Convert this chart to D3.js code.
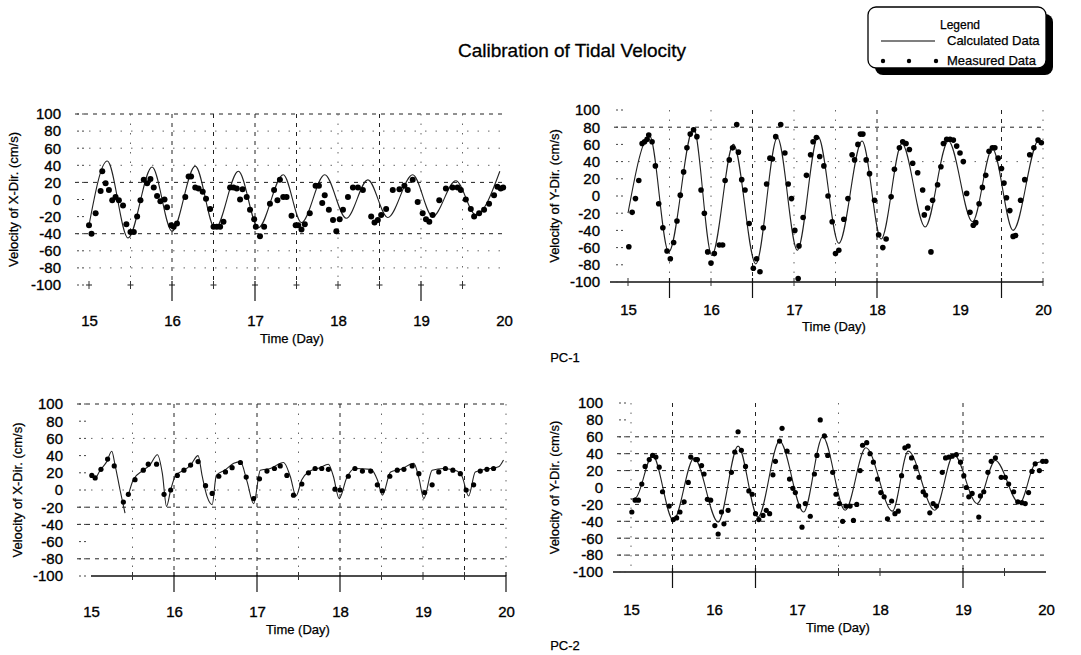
<!DOCTYPE html>
<html><head><meta charset="utf-8">
<script src="https://cdn.jsdelivr.net/npm/d3@7"></script>
<style>
html,body{margin:0;padding:0;background:#fff;}
svg{display:block;font-family:"Liberation Sans",Arial,sans-serif;}
</style></head>
<body>
<svg id="chart" width="1081" height="655"></svg>
<script>
// ---------- data ----------
const dayTicks = [15,16,17,18,19,20];
const velTicks = [100,80,60,40,20,0,-20,-40,-60,-80,-100];

// PC-1, X-direction
const calcX1_t = [15.0,15.22,15.47,15.76,16.0,16.28,16.52,16.8,17.04,17.34,17.56,17.84,18.1,18.36,18.6,18.9,19.14,19.42,19.66,19.95];
const calcX1_v = [-30,45,-45,38,-37,39,-34,33,-33,29,-27,29,-22,23,-21,29,-20,22,-18,33];
const measX1_t = [15.00,15.03,15.08,15.14,15.16,15.20,15.24,15.28,15.32,15.36,15.41,15.45,15.50,15.54,15.58,15.62,15.66,15.70,15.74,15.78,15.82,15.86,15.91,15.94,15.99,16.02,16.06,16.16,16.20,16.23,16.28,16.32,16.37,16.41,16.46,16.50,16.54,16.58,16.62,16.70,16.74,16.78,16.82,16.85,16.90,16.94,16.99,17.01,17.06,17.11,17.18,17.23,17.27,17.30,17.34,17.38,17.44,17.49,17.52,17.56,17.60,17.66,17.73,17.77,17.81,17.84,17.89,17.94,17.98,18.02,18.06,18.12,18.18,18.24,18.30,18.40,18.44,18.48,18.52,18.58,18.66,18.74,18.80,18.84,18.90,18.96,19.02,19.06,19.10,19.14,19.22,19.30,19.38,19.44,19.48,19.54,19.60,19.64,19.70,19.76,19.82,19.88,19.92,19.96,19.99];
const measX1_v = [-30,-40,-16,10,33,19,11,-1,3,-1,-7,-29,-38,-38,-20,-1,23,19,24,14,4,-2,0,-9,-30,-32,-28,3,27,27,14,13,9,1,-11,-32,-32,-32,-26,14,14,13,0,12,3,-12,-23,-32,-43,-32,-5,11,-1,23,3,3,-19,-30,-30,-35,-29,-16,16,16,-4,5,-12,-24,-37,-23,-12,3,14,14,11,-20,-27,-24,-18,-11,11,12,16,11,23,-3,-16,-23,-26,-18,-1,13,14,14,11,0,-11,-20,-16,-12,-5,5,15,13,14];

// PC-1, Y-direction
const calcY1_t = [15.0,15.26,15.49,15.79,16.01,16.27,16.54,16.80,17.04,17.29,17.54,17.82,18.05,18.30,18.58,18.86,19.15,19.39,19.64,19.95,20.0];
const calcY1_v = [-20,70,-65,79,-69,60,-79,68,-63,69,-55,64,-50,61,-36,64,-30,55,-40,65,63];
const measY1_t = [15.01,15.05,15.09,15.13,15.17,15.20,15.23,15.25,15.29,15.33,15.37,15.42,15.47,15.51,15.55,15.59,15.63,15.67,15.71,15.75,15.79,15.83,15.88,15.92,15.96,16.00,16.04,16.10,16.14,16.17,16.22,16.26,16.31,16.33,16.37,16.41,16.46,16.51,16.55,16.59,16.63,16.67,16.71,16.74,16.78,16.84,16.89,16.93,16.97,17.01,17.06,17.05,17.11,17.15,17.20,17.23,17.27,17.31,17.36,17.41,17.46,17.50,17.54,17.60,17.65,17.70,17.73,17.77,17.80,17.83,17.87,17.91,17.97,18.02,18.07,18.11,18.17,18.21,18.27,18.31,18.35,18.39,18.43,18.49,18.55,18.57,18.61,18.65,18.67,18.73,18.77,18.80,18.84,18.88,18.92,18.96,19.00,19.04,19.08,19.12,19.16,19.19,19.23,19.27,19.31,19.35,19.39,19.42,19.46,19.50,19.53,19.56,19.60,19.64,19.67,19.73,19.78,19.84,19.89,19.94,19.98];
const measY1_v = [-59,-19,-3,18,61,63,66,71,63,35,-9,-37,-64,-73,-54,-29,1,28,56,72,77,69,7,-20,-65,-78,-67,-57,-57,18,42,56,83,51,19,7,-32,-84,-73,-88,-37,14,44,43,69,83,50,14,-3,-40,-58,-96,-25,24,48,63,68,46,35,0,-30,-67,-63,-27,-3,48,42,60,72,72,42,26,-5,-45,-60,-50,-1,31,56,63,61,54,38,27,7,-22,-14,-65,-5,13,34,61,66,66,65,58,50,40,3,-19,-34,-31,-9,10,24,52,56,56,44,32,15,-2,-17,-47,-46,-5,19,48,56,65,62];

// PC-2, X-direction (null = break in the calculated line)
const calcX2_t = [15.0,15.05,15.11,15.19,15.25,15.29,15.35,15.41,15.43,15.45,15.51,15.63,15.71,15.8,15.86,15.91,15.96,16.02,16.12,16.2,16.29,16.34,16.4,16.46,16.51,16.61,16.72,16.8,16.88,16.96,17.04,17.16,17.32,17.40,17.47,17.54,17.62,17.76,17.86,17.92,17.99,18.08,18.18,18.37,18.45,18.51,18.61,18.73,18.89,18.95,19.01,19.11,19.25,19.41,19.47,19.55,19.63,19.81,19.91,19.97];
const calcX2_v = [19,14,23,33,45,29,0,-27,null,-6,12,23,29,41,19,-19,0,17,23,29,40,16,-8,-17,17,23,31,33,10,-16,23,25,32,16,-7,12,21,26,30,16,-10,14,25,24,12,-6,21,24,31,14,-10,23,25,22,16,-7,21,25,27,35];
const measX2_t = [15.01,15.05,15.12,15.20,15.28,15.39,15.45,15.53,15.63,15.69,15.79,15.88,15.96,16.04,16.12,16.20,16.29,16.38,16.46,16.54,16.62,16.70,16.80,16.87,16.96,17.03,17.12,17.21,17.28,17.36,17.44,17.54,17.62,17.70,17.78,17.86,17.94,18.00,18.10,18.18,18.27,18.37,18.45,18.51,18.60,18.69,18.77,18.87,18.95,19.02,19.11,19.19,19.27,19.36,19.45,19.52,19.61,19.69,19.77,19.85];
const measX2_v = [17,14,24,36,28,-14,-5,12,23,30,30,-5,0,17,23,29,33,5,-4,16,21,26,32,15,-10,13,22,25,28,17,-6,7,20,25,25,24,1,0,16,25,22,22,6,-1,16,23,24,28,19,-3,6,21,25,23,19,0,6,22,24,25];

// PC-2, Y-direction
const calcY2_t = [15.0,15.06,15.26,15.51,15.76,16.05,16.29,16.53,16.79,17.08,17.31,17.58,17.83,18.15,18.34,18.66,18.89,19.17,19.39,19.68,19.87,20.0];
const calcY2_v = [-14,-12,38,-39,35,-41,49,-35,55,-29,60,-27,47,-28,43,-27,39,-19,32,-19,28,32];
const measY2_t = [15.01,15.05,15.09,15.13,15.17,15.22,15.26,15.30,15.34,15.38,15.46,15.51,15.55,15.59,15.64,15.69,15.72,15.78,15.80,15.85,15.88,15.92,15.96,16.01,16.05,16.09,16.12,16.17,16.21,16.25,16.29,16.33,16.38,16.42,16.46,16.50,16.54,16.59,16.63,16.67,16.71,16.74,16.79,16.82,16.88,16.91,16.95,16.98,17.02,17.06,17.10,17.16,17.21,17.24,17.28,17.33,17.37,17.43,17.47,17.51,17.55,17.59,17.64,17.68,17.72,17.76,17.79,17.84,17.88,17.92,17.97,18.01,18.05,18.09,18.14,18.18,18.22,18.26,18.30,18.34,18.38,18.43,18.47,18.52,18.55,18.60,18.64,18.68,18.75,18.79,18.83,18.87,18.92,18.97,19.01,19.04,19.07,19.11,19.19,19.21,19.25,19.30,19.34,19.39,19.46,19.51,19.55,19.61,19.66,19.71,19.75,19.79,19.83,19.87,19.92,19.96,20.00];
const measY2_v = [-29,-15,-15,4,25,33,38,36,24,-5,-22,-38,-36,-29,-17,6,36,33,33,26,16,-14,-15,-45,-55,-29,-43,-27,18,42,66,44,25,-4,-8,-31,-38,-33,-27,-31,15,31,55,70,43,10,-1,-6,-22,-47,-19,-34,16,38,80,61,38,18,-8,-19,-40,-22,-22,-39,-20,20,50,53,40,30,10,-6,-11,-37,-16,-31,-28,14,47,49,35,24,12,-5,-9,-30,-19,-22,18,35,36,37,39,30,14,0,-11,-7,-35,-10,-5,18,31,35,12,12,4,-5,-17,-18,-19,-6,19,28,20,31,31];

// ---------- drawing ----------
const svg = d3.select("#chart");
const FONT = '"Liberation Sans", Arial, sans-serif';
const fmt = d => String(d);

const panels = [
  {x0:89, x1:504, yt:114, yb:285, ylab:"Velocity of X-Dir. (cm/s)", ct:calcX1_t, cv:calcX1_v, mt:measX1_t, mv:measX1_v,
   hDash:[100,20,-40], hDot:[80,60,40,-60,-80], vDash:[16,16.5,17,17.5,18.5], vDot:[15.5,18,19,19.5],
   axisLine:false, longTicks:[16,17,19], shortTicks:[15,15.5,16.5,17.5,18,18.5,19.5], xpad:30, ttlY:343, ttlX:292, yttlX:13, r:3},
  {x0:628, x1:1043, yt:110, yb:282, ylab:"Velocity of Y-Dir. (cm/s)", ct:calcY1_t, cv:calcY1_v, mt:measY1_t, mv:measY1_v,
   hDash:[80], hDot:[40], vDash:[16.5,18,19.5], vDot:[15.5,16,17,17.5,20],
   axisLine:true, longTicks:[15.5,16.5,18,19.5], shortTicks:[15,16,17,17.5,20], xpad:22, ttlY:331, ttlX:834, yttlX:554, r:2.8},
  {x0:91, x1:506, yt:404, yb:576, ylab:"Velocity of X-Dir. (cm/s)", ct:calcX2_t, cv:calcX2_v, mt:measX2_t, mv:measX2_v,
   hDash:[100,-20,-40,-80], hDot:[60,0], vDash:[16,17,18,19.5], vDot:[15.5,16.5,17.5,18.5,19,20],
   axisLine:true, longTicks:[16,17,18,20], shortTicks:[15.5,16.5,17.5,18.5,19,19.5], xpad:30, ttlY:634, ttlX:298, yttlX:17, r:2.6},
  {x0:631, x1:1046, yt:403, yb:572, ylab:"Velocity of Y-Dir. (cm/s)", ct:calcY2_t, cv:calcY2_v, mt:measY2_t, mv:measY2_v,
   hDash:[60,40,20,0,-20,-40,-60,-80], hDot:[], vDash:[15.5,16.5,19], vDot:[15,17.5],
   axisLine:true, longTicks:[15.5,16.5,19], shortTicks:[17.5,18,19.5], xpad:32, ttlY:632, ttlX:838, yttlX:554, r:2.6}
];

panels.forEach(p => {
  const x = d3.scaleLinear().domain([15,20]).range([p.x0,p.x1]);
  const y = d3.scaleLinear().domain([-100,100]).range([p.yb,p.yt]);
  const g = svg.append("g");

  // grid
  g.selectAll(".hd").data(p.hDash).join("line")
    .attr("x1", x(15)-14).attr("x2", x(20)).attr("y1", d=>y(d)).attr("y2", d=>y(d))
    .attr("stroke","#222").attr("stroke-width",1).attr("stroke-dasharray","4,5");
  g.selectAll(".ho").data(p.hDot).join("line")
    .attr("x1", x(15)).attr("x2", x(20)).attr("y1", d=>y(d)).attr("y2", d=>y(d))
    .attr("stroke","#666").attr("stroke-width",1).attr("stroke-dasharray","1.5,9");
  g.selectAll(".vd").data(p.vDash).join("line")
    .attr("x1", d=>x(d)).attr("x2", d=>x(d)).attr("y1", y(100)).attr("y2", y(-100))
    .attr("stroke","#222").attr("stroke-width",1).attr("stroke-dasharray","4,5");
  g.selectAll(".vo").data(p.vDot).join("line")
    .attr("x1", d=>x(d)).attr("x2", d=>x(d)).attr("y1", y(100)).attr("y2", y(-100))
    .attr("stroke","#666").attr("stroke-width",1).attr("stroke-dasharray","1.5,8");

  // bottom line and ticks
  if (p.axisLine) {
    g.append("line").attr("x1", x(15)-(p.x0>600?18:0)).attr("x2", x(20)).attr("y1", y(-100)).attr("y2", y(-100))
      .attr("stroke","#111").attr("stroke-width",1.3);
  } else {
    g.selectAll(".pl").data(p.shortTicks.concat(p.longTicks)).join("line")
      .attr("x1", d=>x(d)-3).attr("x2", d=>x(d)+3).attr("y1", y(-100)).attr("y2", y(-100))
      .attr("stroke","#222").attr("stroke-width",1);
  }
  g.selectAll(".lt").data(p.longTicks).join("line")
    .attr("x1", d=>x(d)).attr("x2", d=>x(d)).attr("y1", y(-100)-4).attr("y2", y(-100)+16)
    .attr("stroke","#111").attr("stroke-width",1.2);
  g.selectAll(".st").data(p.shortTicks).join("line")
    .attr("x1", d=>x(d)).attr("x2", d=>x(d)).attr("y1", y(-100)-4).attr("y2", y(-100)+4)
    .attr("stroke","#333").attr("stroke-width",1);

  // left ticks
  g.selectAll(".yt").data(velTicks).join("line")
    .attr("x1", p.x0-12).attr("x2", p.x0-3).attr("y1", d=>y(d)).attr("y2", d=>y(d))
    .attr("stroke","#444").attr("stroke-width",1).attr("stroke-dasharray","2,3");

  // axes
  const ya = g.append("g").attr("transform",`translate(${p.x0},0)`)
    .call(d3.axisLeft(y).tickValues(velTicks).tickSize(0).tickPadding(28).tickFormat(fmt));
  ya.select(".domain").remove();
  ya.selectAll("text").attr("font-size",15).attr("font-family",FONT).attr("fill","#000")
    .attr("stroke","#000").attr("stroke-width",0.35);

  const xa = g.append("g").attr("transform",`translate(0,${p.yb})`)
    .call(d3.axisBottom(x).tickValues(dayTicks).tickSize(0).tickPadding(p.xpad).tickFormat(fmt));
  xa.select(".domain").remove();
  xa.selectAll("text").attr("font-size",15).attr("font-family",FONT).attr("fill","#000")
    .attr("stroke","#000").attr("stroke-width",0.35);

  g.append("text").attr("x",p.ttlX).attr("y",p.ttlY).attr("text-anchor","middle")
    .attr("font-size",13).attr("font-family",FONT).attr("stroke","#000").attr("stroke-width",0.25).text("Time (Day)");
  g.append("text").attr("transform",`translate(${p.yttlX},${(p.yt+p.yb)/2}) rotate(-90)`)
    .attr("text-anchor","middle").attr("dy","0.35em")
    .attr("font-size",13).attr("font-family",FONT).attr("stroke","#000").attr("stroke-width",0.25).text(p.ylab);

  // calculated line
  const calc = p.ct.map((t,i)=>({t, v:p.cv[i]}));
  const line = d3.line().defined(d=>d.v!==null).x(d=>x(d.t)).y(d=>y(d.v)).curve(d3.curveMonotoneX);
  g.append("path").datum(calc).attr("d",line).attr("fill","none")
    .attr("stroke","#222").attr("stroke-width",1.1);

  // measured points
  const meas = p.mt.map((t,i)=>({t, v:p.mv[i]}));
  g.selectAll(".m").data(meas).join("circle")
    .attr("cx",d=>x(d.t)).attr("cy",d=>y(d.v)).attr("r",p.r).attr("fill","#000");
});

// title and labels
svg.append("text").attr("x",572).attr("y",57).attr("text-anchor","middle")
  .attr("font-size",19).attr("font-family",FONT).attr("stroke","#000").attr("stroke-width",0.3).text("Calibration of Tidal Velocity");
svg.append("text").attr("x",565).attr("y",362).attr("text-anchor","middle")
  .attr("font-size",13).attr("font-family",FONT).attr("stroke","#000").attr("stroke-width",0.25).text("PC-1");
svg.append("text").attr("x",565).attr("y",650).attr("text-anchor","middle")
  .attr("font-size",13).attr("font-family",FONT).attr("stroke","#000").attr("stroke-width",0.25).text("PC-2");

// legend
const lg = svg.append("g");
lg.append("rect").attr("x",875).attr("y",14).attr("width",178).attr("height",61).attr("rx",8).attr("fill","#000");
lg.append("rect").attr("x",868).attr("y",7).attr("width",178).attr("height",61).attr("rx",8)
  .attr("fill","#fff").attr("stroke","#000").attr("stroke-width",1.3);
lg.append("text").attr("x",960).attr("y",29).attr("text-anchor","middle")
  .attr("font-size",12).attr("font-family",FONT).attr("stroke","#000").attr("stroke-width",0.25).text("Legend");
lg.append("line").attr("x1",881).attr("x2",935).attr("y1",41).attr("y2",41).attr("stroke","#000").attr("stroke-width",1.1);
lg.append("text").attr("x",947).attr("y",45).attr("font-size",13).attr("font-family",FONT).attr("stroke","#000").attr("stroke-width",0.25).text("Calculated Data");
lg.selectAll(".ld").data([883,909,936]).join("circle").attr("cx",d=>d).attr("cy",61).attr("r",2.2).attr("fill","#000");
lg.append("text").attr("x",947).attr("y",65).attr("font-size",13).attr("font-family",FONT).attr("stroke","#000").attr("stroke-width",0.25).text("Measured Data");
</script>
</body></html>
